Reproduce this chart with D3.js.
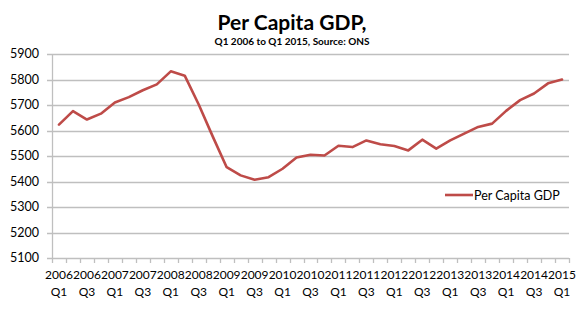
<!DOCTYPE html>
<html>
<head>
<meta charset="utf-8">
<script src="https://cdn.jsdelivr.net/npm/d3@7/dist/d3.min.js"></script>
<style>
  body { margin: 0; background: #fff; }
  svg text { font-family: Lato, "Open Sans", sans-serif; fill: #000; }
</style>
</head>
<body>
<div id="chart"></div>
<script>
// quarterly per capita GDP, 2006 Q1 .. 2015 Q1
const years = ['2006','2006','2006','2006','2007','2007','2007','2007','2008','2008','2008','2008',
    '2009','2009','2009','2009','2010','2010','2010','2010','2011','2011','2011','2011',
    '2012','2012','2012','2012','2013','2013','2013','2013','2014','2014','2014','2014','2015'];
const quarters = ['Q1','Q2','Q3','Q4','Q1','Q2','Q3','Q4','Q1','Q2','Q3','Q4',
    'Q1','Q2','Q3','Q4','Q1','Q2','Q3','Q4','Q1','Q2','Q3','Q4',
    'Q1','Q2','Q3','Q4','Q1','Q2','Q3','Q4','Q1','Q2','Q3','Q4','Q1'];
const gdp = [5623, 5676, 5643, 5666, 5710, 5731, 5758, 5781, 5832, 5815, 5702, 5577,
    5456, 5424, 5407, 5417, 5450, 5494, 5505, 5502, 5540, 5535, 5561, 5546,
    5539, 5522, 5564, 5529, 5561, 5588, 5614, 5627, 5677, 5719, 5745, 5785, 5800];
const yTicks = [5100, 5200, 5300, 5400, 5500, 5600, 5700, 5800, 5900];

const chart = function (_container) {
    let module = {},
    container = _container,
    width = 582,
    height = 329,
    margin = { top: 54, right: 13, bottom: 71, left: 52 },
    innerWidth = width - margin.left - margin.right,
    innerHeight = height - margin.top - margin.bottom,
    red = '#BE4B48',
    grid = '#BFBFBF',
    svg = container.append('svg')
        .attr('width', width)
        .attr('height', height),
    g = svg.append('g')
        .attr('transform', 'translate(' + margin.left + ',' + margin.top + ')'),
    x = d3.scaleBand()
        .domain(d3.range(gdp.length))
        .range([0, innerWidth]),
    y = d3.scaleLinear()
        .domain([5100, 5900])
        .range([innerHeight, 0])

    module.init = () => {
        svg.append('text')
            .attr('x', 292).attr('y', 30)
            .attr('text-anchor', 'middle')
            .style('font-size', '21px').style('font-weight', 'bold')
            .text('Per Capita GDP,');
        svg.append('text')
            .attr('x', 292).attr('y', 45)
            .attr('text-anchor', 'middle')
            .style('font-size', '10px').style('font-weight', 'bold')
            .text('Q1 2006 to Q1 2015, Source: ONS');

        // horizontal gridlines, they reach a little past the axis like tick marks
        g.append('g')
            .selectAll('line')
            .data(yTicks)
            .enter()
            .append('line')
            .attr('x1', -5).attr('x2', innerWidth)
            .attr('y1', d => Math.round(y(d)) + 0.5)
            .attr('y2', d => Math.round(y(d)) + 0.5)
            .attr('stroke', grid).attr('stroke-width', 1.3);

        g.append('g')
            .selectAll('text')
            .data(yTicks)
            .enter()
            .append('text')
            .attr('x', -13)
            .attr('y', d => y(d) + 4)
            .attr('text-anchor', 'end')
            .style('font-size', '12.5px')
            .text(d => d);

        // y axis line
        g.append('line')
            .attr('x1', 0.5).attr('x2', 0.5)
            .attr('y1', 0).attr('y2', innerHeight)
            .attr('stroke', grid).attr('stroke-width', 1.3);

        // category ticks sit between the quarters
        const step = x.step();
        g.append('g')
            .selectAll('line')
            .data(d3.range(gdp.length + 1))
            .enter()
            .append('line')
            .attr('x1', d => Math.round(d * step) + 0.5)
            .attr('x2', d => Math.round(d * step) + 0.5)
            .attr('y1', innerHeight).attr('y2', innerHeight + 5)
            .attr('stroke', grid).attr('stroke-width', 1.3);

        const labels = g.append('g')
            .selectAll('text')
            .data(d3.range(0, gdp.length, 2))
            .enter()
            .append('text')
            .attr('text-anchor', 'middle')
            .style('font-size', '12px')
            .attr('transform', i => 'translate(' + (x(i) + step / 2) + ',' + (innerHeight + 21) + ')');
        labels.append('tspan').attr('x', 0).attr('y', 0).text(i => years[i]);
        labels.append('tspan').attr('x', 0).attr('y', 17).text(i => quarters[i]);

        const line = d3.line()
            .x((d, i) => x(i) + step / 2)
            .y(d => y(d));

        g.append('path')
            .datum(gdp)
            .attr('d', line)
            .attr('fill', 'none')
            .attr('stroke', red)
            .attr('stroke-width', 2.6)
            .attr('stroke-linejoin', 'round')
            .attr('stroke-linecap', 'round');

        // legend
        const legend = svg.append('g').attr('transform', 'translate(445,195)');
        legend.append('line')
            .attr('x1', 0).attr('x2', 28)
            .attr('stroke', red).attr('stroke-width', 2.6);
        legend.append('text')
            .attr('x', 29).attr('y', 4.5)
            .style('font-size', '12.5px')
            .text('Per Capita GDP');
    }

    return module;
}

const gdp_chart = chart(d3.select('#chart'));
gdp_chart.init();
</script>
</body>
</html>
